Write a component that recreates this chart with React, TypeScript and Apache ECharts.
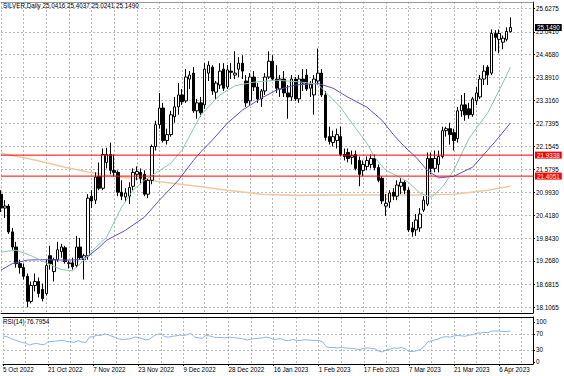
import React, { useEffect, useRef } from "react";
import * as echarts from "echarts";

const monthNames = ["Jan", "Feb", "Mar", "Apr", "May", "Jun", "Jul", "Aug", "Sep", "Oct", "Nov", "Dec"];

// trading days shown on the chart, by month (year, month, days)
const tradingDays: [number, number, number[]][] = [
  [2022, 10, [5, 6, 7, 10, 11, 12, 13, 14, 17, 18, 19, 20, 21, 24, 25, 26, 27, 28, 30, 31]],
  [2022, 11, [1, 2, 3, 4, 7, 8, 9, 10, 11, 14, 15, 16, 17, 18, 21, 22, 23, 24, 25, 28, 29, 30]],
  [2022, 12, [1, 2, 5, 6, 7, 8, 9, 12, 13, 14, 15, 16, 19, 20, 21, 22, 23, 27, 28, 29, 30]],
  [2023, 1, [3, 4, 5, 6, 9, 10, 11, 12, 13, 16, 17, 18, 19, 20, 23, 24, 25, 26, 27, 30, 31]],
  [2023, 2, [1, 2, 3, 6, 7, 8, 9, 10, 13, 14, 15, 16, 17, 20, 21, 22, 23, 24, 27, 28]],
  [2023, 3, [1, 2, 3, 6, 7, 8, 9, 10, 12, 13, 14, 15, 16, 17, 19, 20, 21, 22, 23, 24, 27, 28, 29, 30, 31]],
  [2023, 4, [3, 4, 5, 6, 7, 10, 11]],
];
// empty space on the right of the chart (chart shift)
const futureDays = ["12 Apr 2023", "13 Apr 2023", "14 Apr 2023", "17 Apr 2023", "18 Apr 2023", "19 Apr 2023"];

const opens = [
  20.95, 20.6, 20.65, 20.0, 19.62, 19.2, 19.1, 18.88, 18.25, 18.65,
  18.75, 18.55, 18.45, 19.4, 19.0, 19.3, 19.5, 19.6, 19.2, 19.22,
  19.15, 19.62, 19.3, 19.4, 20.9, 20.8, 21.4, 21.1, 21.75, 21.95,
  21.55, 21.5, 21.0, 20.88, 20.9, 21.15, 21.45, 21.5, 21.45, 20.95,
  21.3, 22.15, 22.7, 23.12, 22.3, 22.45, 22.9, 23.15, 23.45, 23.3,
  23.85, 24.0, 23.05, 23.25, 23.2, 24.0, 24.15, 23.52, 23.7, 24.1,
  23.65, 24.05, 23.95, 24.1, 24.25, 23.8, 23.3, 23.9, 23.65, 23.35,
  23.55, 23.9, 24.3, 23.85, 23.6, 23.85, 23.5, 23.4, 23.85, 23.35,
  23.85, 23.95, 23.62, 23.45, 23.8, 24.0, 23.45, 22.4, 22.25, 22.3,
  22.4, 21.95, 22.0, 21.88, 21.95, 21.8, 21.55, 21.65, 21.7, 21.85,
  21.62, 21.35, 20.65, 20.75, 21.0, 20.9, 21.15, 21.25, 21.05, 20.1,
  20.05, 20.1, 20.55, 20.7, 21.85, 21.6, 21.7, 21.9, 22.55, 22.6,
  22.5, 22.35, 23.05, 23.2, 23.1, 22.95, 23.3, 23.4, 23.85, 24.15,
  24.0, 25.0, 24.85, 24.78, 24.85, 25.0416,
];
const highs = [
  21.05, 20.8, 20.7, 20.1, 19.75, 19.3, 19.2, 18.95, 18.75, 18.95,
  18.85, 18.7, 19.3, 19.65, 19.35, 19.75, 19.7, 19.65, 19.28, 19.35,
  19.9, 19.85, 19.45, 20.95, 21.05, 21.5, 21.75, 22.1, 22.12, 22.25,
  21.95, 21.55, 21.3, 21.1, 21.25, 21.6, 21.65, 21.6, 21.55, 21.35,
  22.2, 22.8, 23.5, 23.25, 22.6, 23.05, 23.4, 23.75, 23.6, 24.1,
  24.05, 24.15, 23.35, 23.4, 24.25, 24.3, 24.2, 23.8, 24.25, 24.25,
  24.2, 24.25, 24.55, 24.4, 24.45, 23.95, 24.0, 24.05, 23.75, 23.6,
  24.0, 24.55, 24.45, 24.2, 23.95, 24.05, 23.7, 23.95, 23.9, 23.95,
  24.1, 24.1, 23.8, 23.95, 24.62, 24.1, 23.55, 22.65, 22.55, 22.6,
  22.65, 22.1, 22.1, 22.05, 22.05, 21.9, 21.8, 21.9, 21.95, 21.95,
  21.7, 21.4, 20.95, 21.05, 21.1, 21.3, 21.35, 21.3, 21.12, 20.25,
  20.45, 20.6, 20.9, 22.0, 22.0, 22.05, 22.05, 22.65, 22.65, 22.75,
  22.6, 23.15, 23.45, 23.5, 23.25, 23.4, 23.65, 23.95, 24.2, 24.2,
  25.1, 25.08, 25.1, 24.95, 25.15, 25.4037,
];
const lows = [
  20.5, 20.35, 19.95, 19.55, 19.1, 18.95, 18.8, 18.1, 18.2, 18.5,
  18.35, 18.25, 18.4, 19.05, 18.75, 19.25, 19.35, 19.2, 19.08, 19.05,
  19.1, 19.3, 18.8, 19.3, 20.6, 20.7, 21.05, 21.05, 21.6, 21.45,
  21.4, 20.9, 20.8, 20.75, 20.7, 21.05, 21.3, 21.2, 20.9, 20.85,
  21.2, 22.05, 22.6, 22.25, 22.2, 22.4, 22.75, 22.95, 23.2, 23.25,
  23.6, 23.0, 22.85, 22.9, 23.1, 23.8, 23.45, 23.35, 23.6, 23.55,
  23.6, 23.85, 23.85, 23.9, 23.85, 23.15, 23.2, 23.55, 23.25, 23.15,
  23.45, 23.85, 23.8, 23.5, 23.4, 23.4, 22.85, 23.3, 23.3, 23.25,
  23.55, 23.55, 23.4, 22.95, 23.7, 23.4, 22.3, 22.2, 22.15, 22.1,
  21.9, 21.8, 21.75, 21.7, 21.55, 21.15, 21.4, 21.55, 21.6, 21.55,
  21.25, 20.7, 20.4, 20.6, 20.8, 20.8, 20.95, 20.95, 20.0, 19.88,
  19.9, 20.0, 20.5, 20.65, 21.45, 21.5, 21.5, 21.85, 22.4, 22.2,
  22.05, 22.25, 22.9, 22.8, 22.85, 22.9, 23.2, 23.35, 23.7, 23.7,
  23.95, 24.55, 24.5, 24.6, 24.8, 25.0241,
];
const closes = [
  20.6, 20.65, 20.0, 19.62, 19.2, 19.1, 18.88, 18.25, 18.65, 18.75,
  18.45, 18.32, 19.15, 19.2, 19.3, 19.55, 19.62, 19.25, 19.22, 19.12,
  19.62, 19.35, 19.4, 20.85, 20.78, 21.38, 21.1, 21.95, 21.95, 21.55,
  21.5, 21.0, 20.9, 20.98, 21.12, 21.5, 21.52, 21.35, 20.95, 21.3,
  22.15, 22.7, 23.12, 22.3, 22.45, 22.95, 23.15, 23.45, 23.28, 23.9,
  23.95, 23.05, 23.25, 23.0, 24.1, 24.2, 23.55, 23.75, 24.05, 23.62,
  24.08, 24.02, 24.0, 24.25, 24.05, 23.25, 23.9, 23.65, 23.35, 23.55,
  23.9, 24.3, 23.85, 23.62, 23.85, 23.5, 23.4, 23.85, 23.35, 23.85,
  23.75, 23.6, 23.72, 23.85, 24.0, 23.45, 22.38, 22.28, 22.4, 22.45,
  21.95, 21.9, 21.85, 21.92, 21.6, 21.45, 21.7, 21.8, 21.85, 21.62,
  21.3, 20.78, 20.72, 20.98, 20.9, 21.18, 21.25, 21.05, 20.05, 20.0,
  20.3, 20.45, 20.8, 21.85, 21.6, 21.85, 21.9, 22.55, 22.6, 22.45,
  22.3, 23.05, 23.2, 22.95, 22.95, 23.35, 23.5, 23.85, 24.05, 23.95,
  25.0, 24.9, 25.0, 24.88, 25.05, 25.149,
];

// moving averages: [bar index, value]
const fastMA: [number, number][] = [
  [0, 19.49], [4, 19.54], [8, 19.4], [12, 19.22], [16, 19.05], [19, 19.02], [22, 19.29], [25, 19.6],
  [28, 19.87], [32, 20.63], [35, 21.05], [38, 21.3], [41, 21.48], [45, 21.73], [48, 22.06], [51, 22.6],
  [53, 22.95], [55, 23.15], [58, 23.45], [62, 23.68], [67, 23.77], [73, 23.82], [79, 23.78], [84, 23.72],
  [86, 23.52], [90, 23.14], [93, 22.74], [97, 22.23], [99, 21.88], [102, 21.55], [106, 21.36], [108, 21.25],
  [111, 20.98], [114, 20.87], [117, 21.13], [120, 21.55], [124, 22.35], [129, 23.0], [133, 23.75], [135, 24.15],
];
const slowMA: [number, number][] = [
  [0, 19.04], [3, 19.2], [7, 19.29], [11, 19.3], [17, 19.29], [21, 19.3], [23, 19.38], [26, 19.61],
  [28, 19.79], [33, 20.04], [38, 20.37], [42, 20.8], [47, 21.3], [51, 21.8], [53, 22.02], [56, 22.31],
  [60, 22.74], [64, 23.07], [69, 23.37], [73, 23.57], [78, 23.7], [84, 23.74], [88, 23.62], [92, 23.39],
  [97, 23.14], [101, 22.81], [104, 22.45], [107, 22.14], [110, 21.88], [113, 21.55], [116, 21.36],
  [120, 21.4], [125, 21.63], [129, 22.06], [132, 22.39], [135, 22.74],
];
const longMA: [number, number][] = [
  [0, 21.98], [9, 21.81], [17, 21.63], [23, 21.51], [30, 21.4], [39, 21.3], [52, 21.15], [60, 21.05],
  [69, 20.95], [78, 20.92], [90, 20.93], [100, 20.93], [111, 20.93], [120, 20.95], [129, 21.05], [135, 21.15],
];

const rsi = [
  65, 63, 59, 55, 52, 49, 47, 42, 45, 46,
  44, 43, 50, 51, 52, 53, 54, 51, 50, 49,
  53, 50, 48, 62, 63, 67, 66, 70, 68, 64,
  61, 57, 56, 57, 58, 62, 61, 58, 55, 57,
  64, 69, 70, 63, 62, 64, 65, 67, 66, 68,
  71, 62, 60, 59, 66, 65, 62, 61, 61, 60,
  62, 61, 60, 59, 57, 55, 57, 58, 59, 60,
  62, 60, 56, 57, 58, 54, 53, 56, 54, 53,
  55, 55, 54, 53, 54, 50, 38, 36, 36, 35,
  36, 35, 34, 34, 32, 31, 34, 35, 34, 33,
  27, 25, 30, 32, 35, 34, 36, 33, 26, 26,
  28, 31, 38, 50, 53, 55, 58, 62, 63, 62,
  65, 66, 65, 64, 67, 68, 72, 72, 74, 73,
  77, 77, 77, 76, 76, 76.7954,
];

const priceTicks = [18.1065, 18.6815, 19.268, 19.843, 20.418, 20.993, 21.5795, 22.1545, 22.7395, 23.316, 23.891, 24.468, 25.041, 25.6275];
const rsiTicks = [0, 30, 70, 100];
const rsiLevels = [30, 70];
const hLines = [21.9338, 21.4051];
const symbolName = "SILVER,Daily";
const rsiName = "RSI(14)";

const categories: string[] = [];
tradingDays.forEach(([y, m, days]) => {
  days.forEach((d) => categories.push(`${d} ${monthNames[m - 1]} ${y}`));
});
futureDays.forEach((d) => categories.push(d));

const FONT = "Liberation Sans";
const FS = 6.3;
const last = closes.length - 1;
const lastCat = categories.length - 1;

export default function App() {
  const ref = useRef<HTMLDivElement>(null);
  useEffect(() => {
    document.body.style.margin = "0";
    const chart = echarts.init(ref.current!, undefined, { renderer: "svg" });
    const grid = "#b8b8b8";
    const boxLabel = (bg: string, text: string) => ({
      show: true, distance: 2, formatter: text, align: "left",
      backgroundColor: bg, color: "#ffffff", fontSize: FS, padding: [1, 2, 0, 2], fontFamily: FONT,
    });
    const levelSeries = (v: number, color: string, lineColor: string) => ({
      type: "line", xAxisIndex: 0, yAxisIndex: 0, silent: true, z: 6,
      data: [[0, v], [lastCat, v]],
      showSymbol: false, symbol: "none", clip: false,
      lineStyle: { color: lineColor, width: 1, type: "solid" },
      itemStyle: { color },
      endLabel: boxLabel(color, v.toFixed(4)),
    });
    const option: any = {
      animation: false,
      backgroundColor: "#ffffff",
      textStyle: { fontFamily: FONT },
      title: [
        {
          text: `${symbolName} ${opens[last].toFixed(4)} ${highs[last].toFixed(4)} ${lows[last].toFixed(4)} ${closes[last].toFixed(4)}`,
          left: 3, top: 2, padding: 0,
          textStyle: { fontSize: FS, fontWeight: "normal", color: "#000", fontFamily: FONT },
        },
        {
          text: `${rsiName} ${rsi[last].toFixed(4)}`,
          left: 3, top: 318, padding: 0,
          textStyle: { fontSize: FS, fontWeight: "normal", color: "#000", fontFamily: FONT },
        },
      ],
      grid: [
        { left: 1, right: 31, top: 2, height: 311 },
        { left: 1, right: 31, top: 317, height: 47 },
      ],
      xAxis: [
        {
          type: "category", gridIndex: 0, data: categories, boundaryGap: false,
          axisLine: { show: true, onZero: false, lineStyle: { color: "#000", width: 1 } },
          axisTick: { show: false }, axisLabel: { show: false },
          splitLine: { show: true, interval: 5, lineStyle: { color: grid, type: [2, 2], width: 1 } },
        },
        {
          type: "category", gridIndex: 0, data: categories, boundaryGap: false, position: "top",
          axisLine: { show: true, onZero: false, lineStyle: { color: "#999", width: 1 } },
          axisTick: { show: false }, axisLabel: { show: false }, splitLine: { show: false },
        },
        {
          type: "category", gridIndex: 1, data: categories, boundaryGap: false,
          axisLine: { show: true, onZero: false, lineStyle: { color: "#000", width: 1 } },
          axisTick: { show: true, interval: 11, length: 2, lineStyle: { color: "#000" } },
          axisLabel: { show: true, interval: 11, align: "left", fontSize: FS, color: "#000", margin: 2, fontFamily: FONT },
          splitLine: { show: true, interval: 5, lineStyle: { color: grid, type: [2, 2], width: 1 } },
        },
        {
          type: "category", gridIndex: 1, data: categories, boundaryGap: false, position: "top",
          axisLine: { show: true, onZero: false, lineStyle: { color: "#000", width: 1 } },
          axisTick: { show: false }, axisLabel: { show: false }, splitLine: { show: false },
        },
      ],
      yAxis: [
        {
          type: "value", gridIndex: 0, position: "right", min: 17.957, max: 25.791, scale: true,
          axisLine: { show: true, lineStyle: { color: "#000", width: 1 } },
          axisTick: { show: true, customValues: priceTicks, length: 2, lineStyle: { color: "#000" } },
          axisLabel: {
            show: true, customValues: priceTicks, fontSize: FS, color: "#000", margin: 3, fontFamily: FONT,
            formatter: (v: number) => v.toFixed(4),
          },
          splitLine: { show: true, lineStyle: { color: grid, type: [2, 2], width: 1 } },
        },
        {
          type: "value", gridIndex: 1, position: "right", min: -5, max: 112,
          axisLine: { show: true, lineStyle: { color: "#000", width: 1 } },
          axisTick: { show: true, customValues: rsiTicks, length: 2, lineStyle: { color: "#000" } },
          axisLabel: {
            show: true, customValues: rsiTicks, fontSize: FS, color: "#000", margin: 3, fontFamily: FONT,
          },
          splitLine: { show: false },
        },
      ],
      series: [
        {
          type: "line", xAxisIndex: 0, yAxisIndex: 0, data: longMA, showSymbol: false, silent: true,
          lineStyle: { color: "#efc9a2", width: 1.6 }, z: 2,
        },
        {
          type: "candlestick", xAxisIndex: 0, yAxisIndex: 0, barWidth: 3, z: 3,
          data: opens.map((o, i) => [o, closes[i], lows[i], highs[i]]),
          itemStyle: { color: "#ffffff", color0: "#000000", borderColor: "#000000", borderColor0: "#000000", borderWidth: 1 },
        },
        {
          type: "line", xAxisIndex: 0, yAxisIndex: 0, data: slowMA, showSymbol: false, silent: true,
          lineStyle: { color: "#5a50cc", width: 1 }, z: 4,
        },
        {
          type: "line", xAxisIndex: 0, yAxisIndex: 0, data: fastMA, showSymbol: false, silent: true,
          lineStyle: { color: "#86c9a6", width: 1 }, z: 4,
        },
        ...hLines.map((v) => levelSeries(v, "#ff0000", "#ff0000")),
        levelSeries(closes[last], "#000000", "rgba(0,0,0,0)"),
        {
          type: "line", xAxisIndex: 2, yAxisIndex: 1, data: rsi, showSymbol: false, silent: true,
          lineStyle: { color: "#86b6e8", width: 1 },
          markLine: {
            silent: true, symbol: ["none", "none"], label: { show: false },
            lineStyle: { color: grid, type: [2, 2], width: 1 },
            data: rsiLevels.map((v) => ({ yAxis: v })),
          },
        },
      ],
    };
    chart.setOption(option);
    return () => chart.dispose();
  }, []);
  return <div ref={ref} style={{ width: 564, height: 376 }} />;
}
